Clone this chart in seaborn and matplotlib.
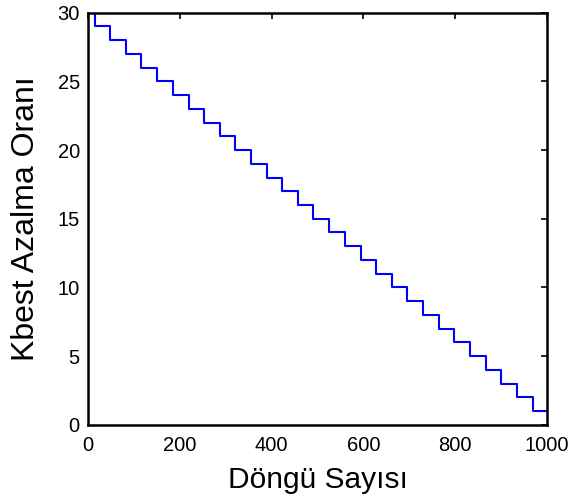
import numpy as np
import pandas as pd
import seaborn as sns
import matplotlib
matplotlib.use("Agg")
import matplotlib.pyplot as plt

# iteration at which each Kbest value starts
step_start = [0, 14, 48, 82, 116, 150, 185, 219, 253, 287, 321, 355, 389, 423, 457,
              491, 526, 560, 594, 628, 662, 696, 730, 764, 798, 832, 867, 901, 935, 969]
kbest = list(range(30, 0, -1))
x_end = 1000

xs = step_start + [x_end]
ys = kbest + [kbest[-1]]
df = pd.DataFrame({"iter": xs, "k": ys})

sns.set_style("white")
plt.rcParams["font.family"] = ["Liberation Sans", "DejaVu Sans"]
plt.rcParams["text.color"] = "black"
plt.rcParams["axes.labelcolor"] = "black"

fig = plt.figure(figsize=(5.69, 5.0), dpi=100)
ax = fig.add_axes([0.155, 0.1506, 0.806, 0.824])
sns.lineplot(data=df, x="iter", y="k", ax=ax, color="#0000ff", linewidth=1.5,
             drawstyle="steps-post", estimator=None, sort=False)

ax.set_xlim(0, 1000)
ax.set_ylim(0, 30)
ax.set_xticks([0, 200, 400, 600, 800, 1000])
ax.set_yticks([0, 5, 10, 15, 20, 25, 30])
ax.tick_params(direction="in", top=True, right=True, length=4, width=1.2,
               labelsize=14.5, colors="black")
ax.tick_params(axis="x", pad=8)
ax.tick_params(axis="y", pad=6)
for s in ax.spines.values():
    s.set_visible(True)
    s.set_color("black")
    s.set_linewidth(1.8)
ax.set_xlabel("Döngü Sayısı", fontsize=21.5, labelpad=8, color="black")
ax.set_ylabel("Kbest Azalma Oranı", fontsize=23, labelpad=12, color="black")

fig.savefig("out.png", dpi=100)
